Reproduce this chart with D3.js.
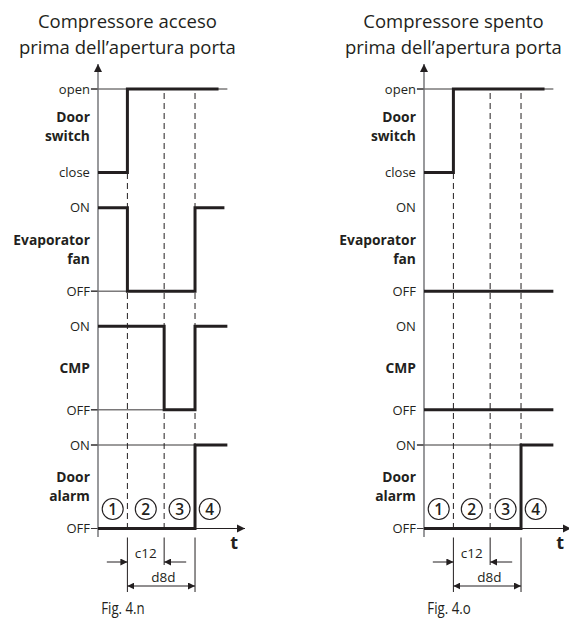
<!DOCTYPE html>
<html><head><meta charset="utf-8">
<script src="https://cdn.jsdelivr.net/npm/d3@7"></script>
<style>
body{margin:0;background:#fff;}
text{font-family:"Open Sans","Noto Sans",sans-serif;fill:#231f20;}
</style></head>
<body>
<svg id="chart" width="569" height="621"></svg>
<script>
// ---- data ----
const titles = [["Compressore acceso","prima dell\u2019apertura porta"],["Compressore spento","prima dell\u2019apertura porta"]];
const figLabels = ["Fig. 4.n","Fig. 4.o"];
const rows = ["doorSwitch","evapFan","cmp","doorAlarm"];
const rowNames = [["Door","switch"],["Evaporator","fan"],["CMP"],["Door","alarm"]];
const levelLabels = [["open","close"],["ON","OFF"],["ON","OFF"],["ON","OFF"]];
// event times (arbitrary units): door opens, c12 elapses, d8d elapses
const events = [20, 45, 66];
const phaseBounds = [0, 20, 45, 66, 86];
const phaseLabels = ["1","2","3","4"];
// step signals: [time, level]
const signalsLeft = [
  [[0,0],[20,1],[82,1]],
  [[0,1],[20,0],[66,1],[86,1]],
  [[0,1],[45,0],[66,1],[88,1]],
  [[0,0],[66,1],[88,1]]
];
const signalsRight = [
  [[0,0],[20,1],[82,1]],
  [[0,0],[88,0]],
  [[0,0],[88,0]],
  [[0,0],[66,1],[88,1]]
];
// thin guide lines: [row, level, end time]
const guidesLeft = [[0,1,88],[1,0,20],[2,0,45],[3,1,66]];
const guidesRight = [[0,1,88],[3,1,66]];
const tickedLeft = [[0,1],[1,0],[2,0],[3,1],[3,0]];
const tickedRight = [[0,1],[3,1],[3,0]];

const panels = [
  {off:0, signals:signalsLeft, guides:guidesLeft, ticked:tickedLeft},
  {off:326, signals:signalsRight, guides:guidesRight, ticked:tickedRight}
];

const svg = d3.select("#chart");
const ink = "#231f20";
const defs = svg.append("defs");
defs.append("marker").attr("id","ah").attr("viewBox","0 0 10 10").attr("refX",10).attr("refY",5)
  .attr("markerWidth",7).attr("markerHeight",7).attr("markerUnits","userSpaceOnUse").attr("orient","auto-start-reverse")
  .append("path").attr("d","M0,0L10,5L0,10z").attr("fill",ink);
defs.append("marker").attr("id","ahg").attr("viewBox","0 0 10 10").attr("refX",10).attr("refY",5)
  .attr("markerWidth",8).attr("markerHeight",9).attr("markerUnits","userSpaceOnUse").attr("orient","auto-start-reverse")
  .append("path").attr("d","M0,0L10,5L0,10z").attr("fill",ink);

const rowScale = d3.scalePoint().domain(rows).range([89, 445]);
const rowH = 83.5;
const yOf = (ri, v) => rowScale(rows[ri]) + (1 - v) * rowH;
const nameShift = [-4, 0, 0, 0];

panels.forEach((p, pi) => {
  const x = d3.scaleLinear().domain([0, 100]).range([98 + p.off, 245 + p.off]);
  const g = svg.append("g");
  // titles
  titles[pi].forEach((t, i) => {
    g.append("text").attr("x", x(20)).attr("y", 28 + i * 25.5).attr("text-anchor","middle")
      .attr("font-size", 18.5).text(t);
  });
  // dashed event lines
  events.forEach((e, i) => {
    g.append("line").attr("x1", x(e)).attr("x2", x(e)).attr("y1", yOf(0,1) + 4).attr("y2", yOf(3,0))
      .attr("stroke", ink).attr("stroke-width", 1).attr("stroke-dasharray","6,4");
    g.append("line").attr("x1", x(e)).attr("x2", x(e)).attr("y1", yOf(3,0) + 9).attr("y2", i === 1 ? 565 : 592)
      .attr("stroke", ink).attr("stroke-width", 1);
  });
  // guides
  p.guides.forEach(([ri, v, end]) => {
    g.append("line").attr("x1", x(-4.8)).attr("x2", x(end)).attr("y1", yOf(ri, v)).attr("y2", yOf(ri, v))
      .attr("stroke", ink).attr("stroke-width", 0.9);
  });
  p.ticked.forEach(([ri, v]) => {
    g.append("line").attr("x1", x(-4.8)).attr("x2", x(0)).attr("y1", yOf(ri, v)).attr("y2", yOf(ri, v))
      .attr("stroke", ink).attr("stroke-width", 0.9);
  });
  // t axis
  g.append("line").attr("x1", x(0)).attr("x2", x(100)).attr("y1", yOf(3,0)).attr("y2", yOf(3,0))
    .attr("stroke", ink).attr("stroke-width", 1).attr("marker-end","url(#ahg)");
  g.append("text").attr("x", x(90)).attr("y", 549).attr("font-size", 18).attr("font-weight","bold").text("t");
  // y axis
  g.append("line").attr("x1", x(0)).attr("x2", x(0)).attr("y1", 537).attr("y2", 64)
    .attr("stroke", "#6d6e71").attr("stroke-width", 1.4).attr("marker-end","url(#ahg)");
  // level labels & row names
  levelLabels.forEach((lv, ri) => {
    lv.forEach((t, k) => {
      g.append("text").attr("x", x(-5.5)).attr("y", yOf(ri, 1 - k)).attr("dy","0.36em")
        .attr("text-anchor","end").attr("font-size", 13).text(t);
    });
    const nm = rowNames[ri];
    const mid = yOf(ri, 0.5) + nameShift[ri];
    const tx = g.append("text").attr("text-anchor","end").attr("font-size", 13.8).attr("font-weight","bold");
    nm.forEach((t, k) => {
      tx.append("tspan").attr("x", x(-5.5)).attr("y", mid + (k - (nm.length - 1) / 2) * 18.8)
        .attr("dy","0.36em").text(t);
    });
  });
  // signals
  const line = d3.line().x(d => x(d[0])).curve(d3.curveStepAfter);
  p.signals.forEach((s, ri) => {
    g.append("path").attr("d", line.y(d => yOf(ri, d[1]))(s))
      .attr("fill","none").attr("stroke", ink).attr("stroke-width", 3).attr("stroke-linejoin","miter");
  });
  // phase circles
  phaseLabels.forEach((t, i) => {
    const c = (phaseBounds[i] + phaseBounds[i + 1]) / 2;
    g.append("circle").attr("cx", x(c)).attr("cy", 509).attr("r", 10.5)
      .attr("fill","#fff").attr("stroke", ink).attr("stroke-width", 1.1);
    g.append("text").attr("x", x(c)).attr("y", 509).attr("dy","0.36em").attr("text-anchor","middle")
      .attr("font-size", 15.5).attr("font-weight","600").text(t);
  });
  // c12 dimension
  g.append("line").attr("x1", x(6)).attr("x2", x(events[0])).attr("y1", 562).attr("y2", 562)
    .attr("stroke", ink).attr("stroke-width", 1).attr("marker-end","url(#ah)");
  g.append("line").attr("x1", x(60)).attr("x2", x(events[1])).attr("y1", 562).attr("y2", 562)
    .attr("stroke", ink).attr("stroke-width", 1).attr("marker-end","url(#ah)");
  g.append("text").attr("x", x(32.5)).attr("y", 558).attr("text-anchor","middle").attr("font-size", 13.5).text("c12");
  // d8d dimension
  g.append("line").attr("x1", x(events[0])).attr("x2", x(events[2])).attr("y1", 586).attr("y2", 586)
    .attr("stroke", ink).attr("stroke-width", 1).attr("marker-start","url(#ah)").attr("marker-end","url(#ah)");
  g.append("text").attr("x", x(44.5)).attr("y", 582).attr("text-anchor","middle").attr("font-size", 13.5).text("d8d");
  // fig label (condensed)
  g.append("text").attr("transform", `translate(${x(17)},614) scale(0.78,1)`).attr("text-anchor","middle")
    .attr("font-size", 17).text(figLabels[pi]);
});
</script>
</body></html>
